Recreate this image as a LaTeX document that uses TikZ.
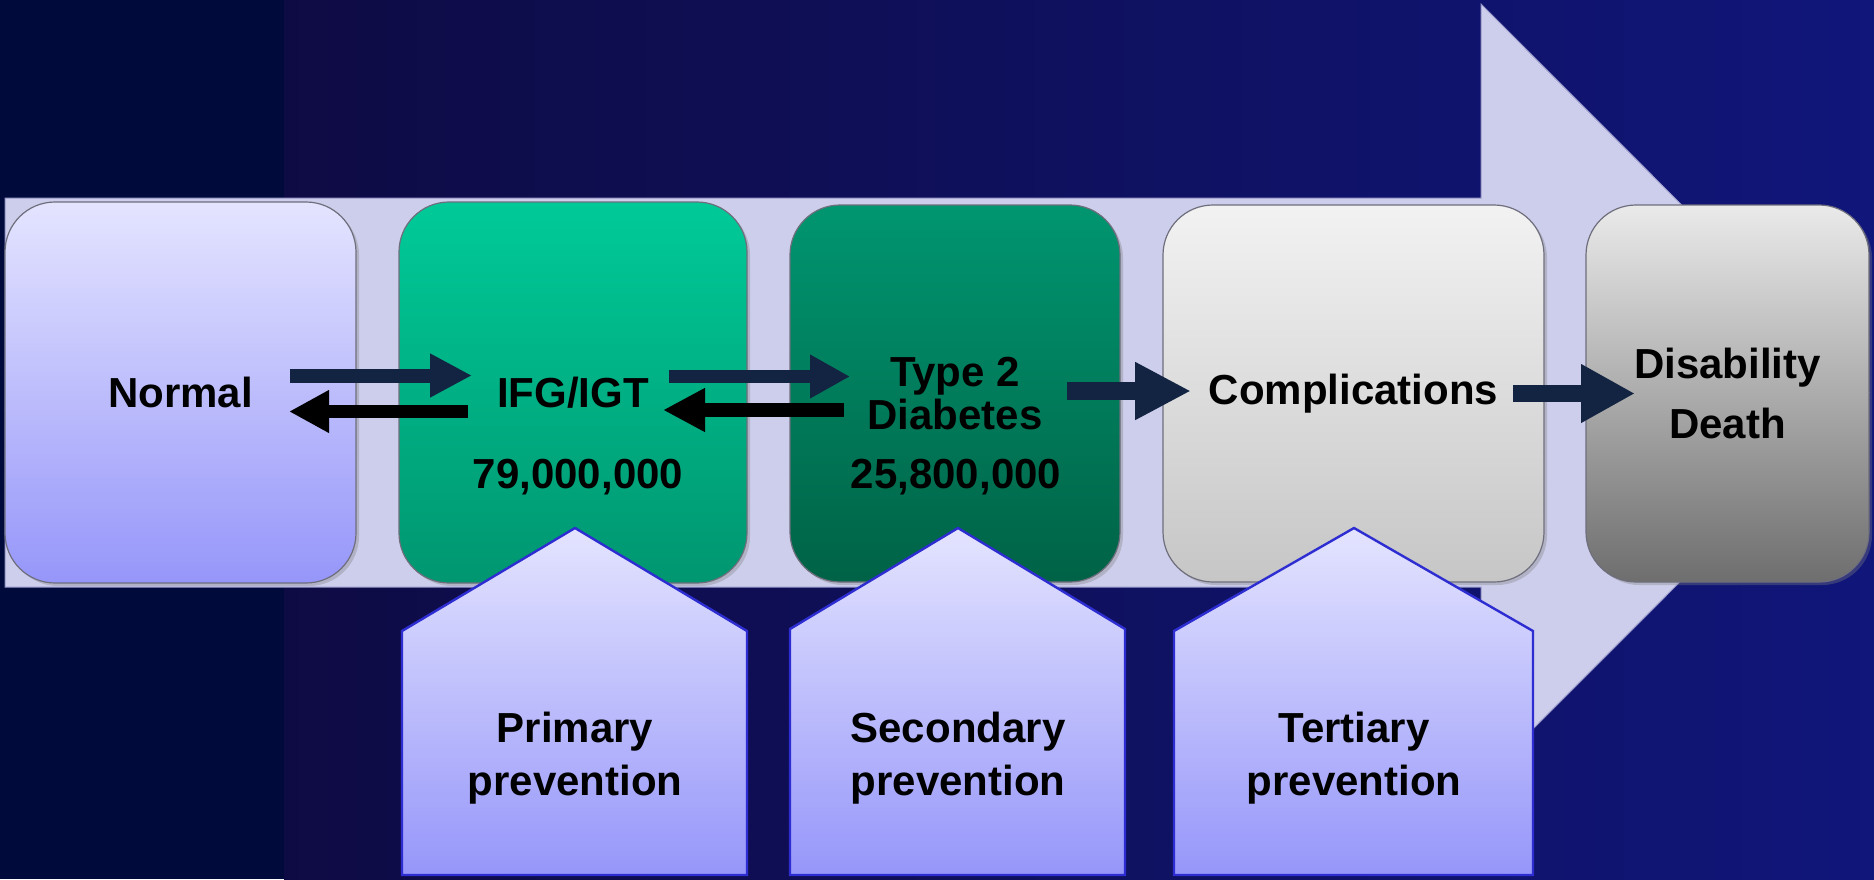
\documentclass[tikz,border=0pt]{standalone}
\usepackage{fontspec}
\setmainfont{Liberation Sans}
\usetikzlibrary{arrows.meta,shadows}
\definecolor{bgA}{RGB}{0,11,60}
\definecolor{bgB}{RGB}{14,11,68}
\definecolor{bgC}{RGB}{16,22,122}
\definecolor{band}{RGB}{205,206,236}
\definecolor{bandedge}{RGB}{150,150,200}
\definecolor{lavT}{RGB}{228,228,255}
\definecolor{lavB}{RGB}{150,150,250}
\definecolor{grnT}{RGB}{0,202,152}
\definecolor{grnB}{RGB}{0,150,112}
\definecolor{dgrT}{RGB}{0,150,112}
\definecolor{dgrB}{RGB}{0,98,70}
\definecolor{gryT}{RGB}{242,242,242}
\definecolor{gryB}{RGB}{198,198,198}
\definecolor{dgyT}{RGB}{234,234,234}
\definecolor{dgyM}{RGB}{196,196,196}
\definecolor{dgyB}{RGB}{110,110,110}
\definecolor{boxedge}{RGB}{110,110,125}
\definecolor{penedge}{RGB}{45,45,210}
\definecolor{navyarrow}{RGB}{19,36,66}
\newcommand\lblfont{\fontsize{21}{21.5}\selectfont\bfseries}
\begin{document}
\begin{tikzpicture}[x=0.5pt,y=-0.5pt,
  stagebox/.style={draw=boxedge, line width=0.6pt, rounded corners=25pt, inner sep=0pt,
    font=\lblfont, align=center, text=black,
    drop shadow={shadow xshift=1.5pt, shadow yshift=-1.5pt, opacity=0.35}},
  numlbl/.style={font=\lblfont, text=black, anchor=base, inner sep=0pt},
  pent/.style={draw=penedge, line width=1.2pt, line join=miter, top color=lavT, bottom color=lavB},
  pentlbl/.style={font=\fontsize{21}{26.5}\selectfont\bfseries, align=center, text=black, inner sep=0pt},
  navyarr/.style={draw=navyarrow, line width=#1},
  blackarr/.style={draw=black, line width=#1}
]
\useasboundingbox (0,0) rectangle (1874,879);
% background
\fill[bgA] (0,0) rectangle (285,879);
\shade[left color=bgB, right color=bgC] (284,0) rectangle (1874,879);
% big arrow
\fill[band, draw=bandedge, line width=0.5pt] (5,198) -- (1481,198) -- (1481,4) -- (1869,392.5) -- (1481,781) -- (1481,587) -- (5,587) -- cycle;
% stage boxes
\node[stagebox, minimum width=175.5pt, minimum height=190.5pt, top color=lavT, bottom color=lavB] (normal) at (180.5,392.5) {Normal};
\node[stagebox, minimum width=174pt, minimum height=190.5pt, top color=grnT, bottom color=grnB] (ifg) at (573,392.5) {IFG/IGT};
\node[stagebox, minimum width=165pt, minimum height=188.5pt, top color=dgrT, bottom color=dgrB] (t2d) at (955,393.5) {Type 2\\Diabetes};
\node[stagebox, minimum width=190.5pt, minimum height=188.5pt, top color=gryT, bottom color=gryB] (compl) at (1353.5,393.5) {Complications};
\node[stagebox, minimum width=141.5pt, minimum height=188.5pt, top color=dgyT, middle color=dgyM, bottom color=dgyB, font=\fontsize{21}{30}\selectfont\bfseries] (death) at (1727.5,393.5) {Disability\\Death};
% numbers
\node[numlbl] (n1) at (578,488) {79,000,000};
\node[numlbl] (n2) at (956,488) {25,800,000};
% small arrows
\coordinate (a1s) at (290,375.5);  \coordinate (a1e) at (472,375.5);
\coordinate (b1s) at (468,411.5);  \coordinate (b1e) at (289,411.5);
\coordinate (a2s) at (669,376.5);  \coordinate (a2e) at (850,376.5);
\coordinate (b2s) at (844,410);    \coordinate (b2e) at (663,410);
\coordinate (a3s) at (1067,391);   \coordinate (a3e) at (1191,391);
\coordinate (a4s) at (1513,393.5); \coordinate (a4e) at (1635,393.5);
\draw[navyarr=7pt, -{Triangle[length=21pt,width=20.5pt]}] (a1s) -- (a1e);
\draw[blackarr=6.5pt, -{Triangle[length=20pt,width=20pt]}] (b1s) -- (b1e);
\draw[navyarr=6.5pt, -{Triangle[length=20pt,width=20.5pt]}] (a2s) -- (a2e);
\draw[blackarr=7pt, -{Triangle[length=21pt,width=20.5pt]}] (b2s) -- (b2e);
\draw[navyarr=9pt, -{Triangle[length=28pt,width=27pt]}] (a3s) -- (a3e);
\draw[navyarr=8.5pt, -{Triangle[length=27pt,width=27.5pt]}] (a4s) -- (a4e);
% prevention pentagons
\path[pent] (402,875) -- (402,631) -- (575,528) -- (747,631) -- (747,875) -- cycle;
\path[pent] (790,875) -- (790,629) -- (958,528) -- (1125,629) -- (1125,875) -- cycle;
\path[pent] (1174,875) -- (1174,631) -- (1354,528) -- (1533,631) -- (1533,875) -- cycle;
\node[pentlbl] (prim) at (575,758.5) {Primary\\prevention};
\node[pentlbl] (sec) at (958,758.5) {Secondary\\prevention};
\node[pentlbl] (ter) at (1354,758.5) {Tertiary\\prevention};
\end{tikzpicture}
\end{document}
